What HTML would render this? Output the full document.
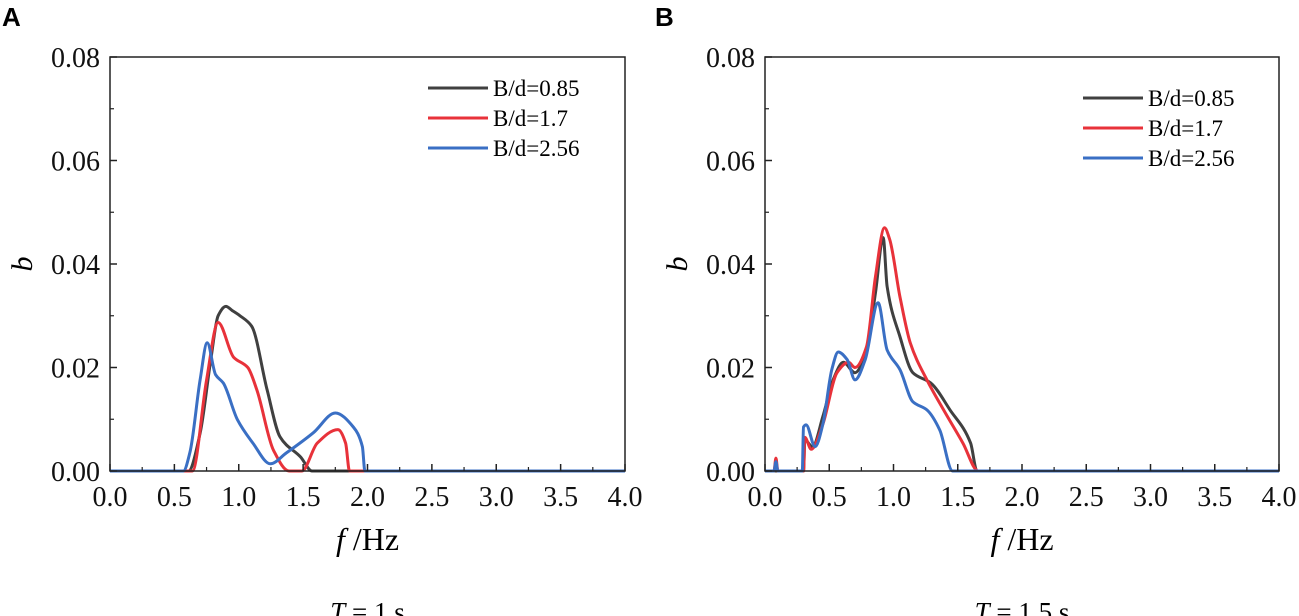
<!DOCTYPE html>
<html><head><meta charset="utf-8">
<style>
html,body{margin:0;padding:0;background:#fff;}
svg{display:block;font-family:"Liberation Serif",serif;}
</style></head>
<body>
<svg id="fig" width="1299" height="616" viewBox="0 0 1299 616"></svg>
<script>
// ---- data ([f, b] pairs) ----
const xTicks = ["0.0","0.5","1.0","1.5","2.0","2.5","3.0","3.5","4.0"];
const xTickVals = [0,0.5,1,1.5,2,2.5,3,3.5,4];
const yTicks = ["0.00","0.02","0.04","0.06","0.08"];
const yTickVals = [0,0.02,0.04,0.06,0.08];
const seriesNames = ["B/d=0.85","B/d=1.7","B/d=2.56"];
const seriesColors = ["#404040","#e8323a","#3a6fc4"];

const aBlack = [[0,0],[0.61,0],[0.70,0.0073],[0.78,0.021],[0.84,0.030],[0.90,0.0318],[0.95,0.031],[1.01,0.030],[1.10,0.028],[1.22,0.0157],[1.32,0.0066],[1.48,0.0027],[1.57,0],[4,0]];
const aRed = [[0,0],[0.64,0],[0.75,0.0176],[0.84,0.0287],[0.96,0.022],[1.07,0.020],[1.14,0.0157],[1.27,0.004],[1.39,0],[1.49,0],[1.61,0.0054],[1.77,0.008],[1.83,0.0054],[1.86,0],[4,0]];
const aBlue = [[0,0],[0.57,0],[0.62,0.0035],[0.70,0.0176],[0.755,0.0248],[0.82,0.0186],[0.88,0.017],[0.99,0.0099],[1.11,0.0054],[1.245,0.0014],[1.37,0.0035],[1.58,0.0074],[1.75,0.0112],[1.89,0.0085],[1.96,0.0047],[1.98,0],[4,0]];

const bBlack = [[0,0],[0.30,0],[0.31,0.006],[0.37,0.0047],[0.45,0.0105],[0.53,0.0176],[0.61,0.021],[0.70,0.019],[0.79,0.0234],[0.86,0.0345],[0.92,0.0451],[0.95,0.0357],[1.05,0.026],[1.15,0.019],[1.29,0.017],[1.44,0.0118],[1.60,0.0054],[1.65,0],[4,0]];
const bRed = [[0,0],[0.07,0],[0.085,0.0025],[0.10,0],[0.30,0],[0.31,0.0065],[0.36,0.0042],[0.45,0.009],[0.56,0.019],[0.65,0.021],[0.70,0.020],[0.79,0.024],[0.86,0.0376],[0.93,0.047],[0.97,0.0448],[1.05,0.0337],[1.13,0.0248],[1.26,0.0176],[1.39,0.0118],[1.54,0.0054],[1.66,0],[4,0]];
const bBlue = [[0,0],[0.07,0],[0.085,0.0018],[0.10,0],[0.29,0],[0.30,0.0085],[0.32,0.0089],[0.39,0.0047],[0.45,0.009],[0.52,0.0196],[0.57,0.023],[0.64,0.0215],[0.70,0.0176],[0.78,0.0215],[0.88,0.0325],[0.95,0.0234],[1.05,0.0196],[1.15,0.0134],[1.26,0.0118],[1.36,0.0079],[1.46,0],[4,0]];

const NS="http://www.w3.org/2000/svg";
const svg=document.getElementById('fig');
function mk(tag,attrs,parent){const e=document.createElementNS(NS,tag);for(const k in attrs)e.setAttribute(k,attrs[k]);(parent||svg).appendChild(e);return e;}

// monotone cubic in x (Fritsch-Carlson)
function monoPath(p){
  const n=p.length, dx=[], s=[], m=[];
  for(let i=0;i<n-1;i++){dx[i]=p[i+1][0]-p[i][0];s[i]=(p[i+1][1]-p[i][1])/dx[i];}
  m[0]=s[0];m[n-1]=s[n-2];
  for(let i=1;i<n-1;i++){
    if(s[i-1]*s[i]<=0)m[i]=0;
    else{const w1=2*dx[i]+dx[i-1],w2=dx[i]+2*dx[i-1];m[i]=(w1+w2)/(w1/s[i-1]+w2/s[i]);}
  }
  let d='M'+p[0][0].toFixed(1)+','+p[0][1].toFixed(1);
  for(let i=0;i<n-1;i++){
    const h=dx[i]/3;
    d+=' C'+(p[i][0]+h).toFixed(1)+','+(p[i][1]+m[i]*h).toFixed(1)+' '+(p[i+1][0]-h).toFixed(1)+','+(p[i+1][1]-m[i+1]*h).toFixed(1)+' '+p[i+1][0].toFixed(1)+','+p[i+1][1].toFixed(1);
  }
  return d;
}

function panel(cfg){
  const g=mk('g',{});
  
  
  const L=cfg.left,R=cfg.right,T=57,B=471;
  const sx=v=>L+(v/4)*(R-L);
  const sy=v=>B-(v/0.08)*(B-T);
  cfg.series.forEach((s,i)=>{
    const pts=s.map(d=>[sx(d[0]),sy(d[1])]);
    const p=mk('path',{d:monoPath(pts),fill:'none',stroke:seriesColors[i],'stroke-width':3,'stroke-linejoin':'round'},g);
    
    
  });
  const fr=mk('rect',{x:L,y:T,width:R-L,height:B-T,fill:'none',stroke:'#222','stroke-width':1.5},g);
  
  
  xTickVals.forEach((v,i)=>{
    mk('line',{x1:sx(v),x2:sx(v),y1:B,y2:B-7,stroke:'#222','stroke-width':1.5},g);
    if(i<xTickVals.length-1) mk('line',{x1:sx(v+0.25),x2:sx(v+0.25),y1:B,y2:B-4,stroke:'#222','stroke-width':1.2},g);
    const t=mk('text',{x:sx(v),y:B+35,'font-size':28,'text-anchor':'middle',fill:'#111'},g);
    t.textContent=xTicks[i];
    
    
  });
  yTickVals.forEach((v,i)=>{
    mk('line',{x1:L,x2:L+7,y1:sy(v),y2:sy(v),stroke:'#222','stroke-width':1.5},g);
    if(i<yTickVals.length-1) mk('line',{x1:L,x2:L+4,y1:sy(v+0.01),y2:sy(v+0.01),stroke:'#222','stroke-width':1.2},g);
    const t=mk('text',{x:L-10,y:sy(v)+10,'font-size':28,'text-anchor':'end',fill:'#111'},g);
    t.textContent=yTicks[i];
    
    
  });
  const yl=mk('text',{x:0,y:0,'font-size':30,'font-style':'italic','text-anchor':'middle',transform:`translate(${L-78},${(T+B)/2}) rotate(-90)`},g);
  yl.textContent='b';
  
  
  const xl=mk('text',{x:(L+R)/2,y:550,'font-size':32,'text-anchor':'middle'},g);
  xl.innerHTML='<tspan font-style="italic">f</tspan> /Hz';
  
  
  const cap=mk('text',{x:(L+R)/2,y:621,'font-size':27,'text-anchor':'middle'},g);
  cap.innerHTML='<tspan font-style="italic">T</tspan> = '+cfg.caption;
  
  
  const pl=mk('text',{x:cfg.letterX,y:26,'font-size':26,'font-weight':'bold','font-family':'Liberation Sans, sans-serif'},g);
  pl.textContent=cfg.letter;
  
  
  seriesNames.forEach((n,i)=>{
    const y=cfg.legY+i*30;
    const ln=mk('line',{x1:cfg.legX,x2:cfg.legX+60,y1:y,y2:y,stroke:seriesColors[i],'stroke-width':3},g);
    
    
    const t=mk('text',{x:cfg.legX+65,y:y+8,'font-size':23},g);
    t.textContent=n;
    
    
  });
}
panel({name:'panel-a',left:110,right:625,letter:'A',letterX:2,caption:'1 s',legX:428,legY:88,series:[aBlack,aRed,aBlue]});
panel({name:'panel-b',left:765,right:1279,letter:'B',letterX:655,caption:'1.5 s',legX:1083,legY:98,series:[bBlack,bRed,bBlue]});
</script>
</body></html>
